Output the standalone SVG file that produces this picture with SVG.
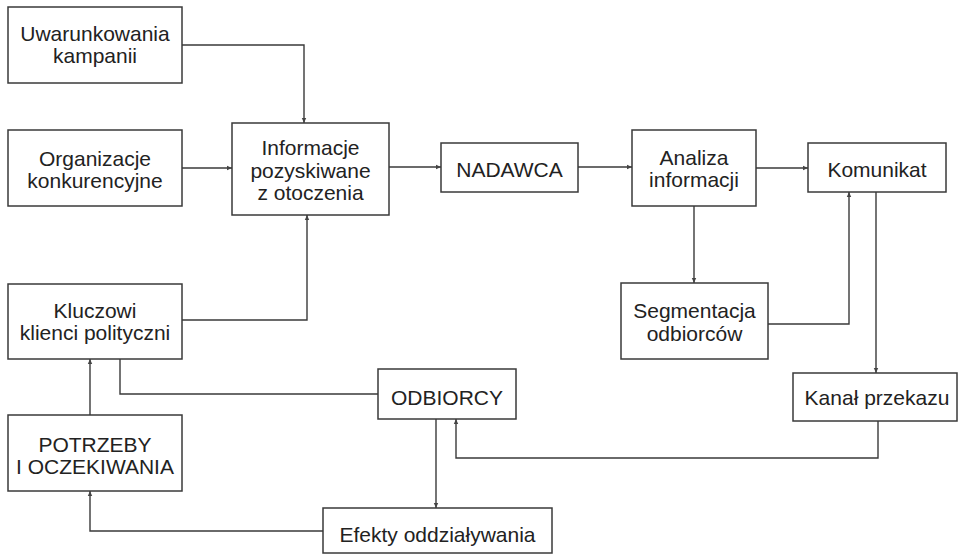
<svg xmlns="http://www.w3.org/2000/svg" width="959" height="554" viewBox="0 0 959 554">
<style>
  .box { fill: #ffffff; stroke: #3a3a3a; stroke-width: 1.5; }
  .lbl { font-family: "Liberation Sans", Arial, sans-serif; font-size: 21px; fill: #222222; text-anchor: middle; }
  .conn { fill: none; stroke: #3a3a3a; stroke-width: 1.4; }
</style>
<defs>
  <marker id="arr" markerUnits="userSpaceOnUse" markerWidth="6" markerHeight="6" refX="5" refY="3" orient="auto">
    <path d="M0,0.8 L5,3 L0,5.2 z" fill="#444444"/>
  </marker>
</defs>
<rect width="959" height="554" fill="#ffffff"/>
<g id="connectors">
  <path class="conn" d="M182,45 H304 V123" marker-end="url(#arr)"/>
  <path class="conn" d="M182,168 H232" marker-end="url(#arr)"/>
  <path class="conn" d="M182,320 H307 V215" marker-end="url(#arr)"/>
  <path class="conn" d="M389,167 H441" marker-end="url(#arr)"/>
  <path class="conn" d="M578,167 H632" marker-end="url(#arr)"/>
  <path class="conn" d="M756,168 H808" marker-end="url(#arr)"/>
  <path class="conn" d="M694,206 V283" marker-end="url(#arr)"/>
  <path class="conn" d="M768,324 H849 V192" marker-end="url(#arr)"/>
  <path class="conn" d="M876,192 V373" marker-end="url(#arr)"/>
  <path class="conn" d="M878,421 V458 H456 V419" marker-end="url(#arr)"/>
  <path class="conn" d="M436,419 V508" marker-end="url(#arr)"/>
  <path class="conn" d="M323,531 H90 V491" marker-end="url(#arr)"/>
  <path class="conn" d="M90,415 V359" marker-end="url(#arr)"/>
  <path class="conn" d="M120,359 V394 H378"/>
</g>
<g id="uwarunkowania">
  <rect class="box" x="8" y="7" width="174" height="76"/>
  <text class="lbl" x="95" y="41">Uwarunkowania</text>
  <text class="lbl" x="95" y="63">kampanii</text>
</g>
<g id="organizacje">
  <rect class="box" x="8" y="130" width="174" height="76"/>
  <text class="lbl" x="95" y="166">Organizacje</text>
  <text class="lbl" x="95" y="188">konkurencyjne</text>
</g>
<g id="informacje">
  <rect class="box" x="232" y="123" width="157" height="92"/>
  <text class="lbl" x="310.5" y="155">Informacje</text>
  <text class="lbl" x="310.5" y="178">pozyskiwane</text>
  <text class="lbl" x="310.5" y="200">z otoczenia</text>
</g>
<g id="nadawca">
  <rect class="box" x="441" y="143" width="137" height="49"/>
  <text class="lbl" x="509.5" y="177">NADAWCA</text>
</g>
<g id="analiza">
  <rect class="box" x="632" y="130" width="124" height="76"/>
  <text class="lbl" x="694" y="165">Analiza</text>
  <text class="lbl" x="694" y="187">informacji</text>
</g>
<g id="komunikat">
  <rect class="box" x="808" y="143" width="138" height="49"/>
  <text class="lbl" x="877" y="177">Komunikat</text>
</g>
<g id="segmentacja">
  <rect class="box" x="621" y="283" width="147" height="76"/>
  <text class="lbl" x="694.5" y="318">Segmentacja</text>
  <text class="lbl" x="694.5" y="341">odbiorców</text>
</g>
<g id="kanal">
  <rect class="box" x="793" y="373" width="164" height="48"/>
  <text class="lbl" x="877" y="405">Kanał przekazu</text>
</g>
<g id="odbiorcy">
  <rect class="box" x="378" y="369" width="138" height="50"/>
  <text class="lbl" x="447" y="405">ODBIORCY</text>
</g>
<g id="efekty">
  <rect class="box" x="323" y="508" width="229" height="45"/>
  <text class="lbl" x="437.5" y="542">Efekty oddziaływania</text>
</g>
<g id="kluczowi">
  <rect class="box" x="8" y="284" width="174" height="75"/>
  <text class="lbl" x="95" y="318">Kluczowi</text>
  <text class="lbl" x="95" y="340">klienci polityczni</text>
</g>
<g id="potrzeby">
  <rect class="box" x="8" y="415" width="174" height="76"/>
  <text class="lbl" x="95" y="452">POTRZEBY</text>
  <text class="lbl" x="95" y="474">I OCZEKIWANIA</text>
</g>
</svg>
